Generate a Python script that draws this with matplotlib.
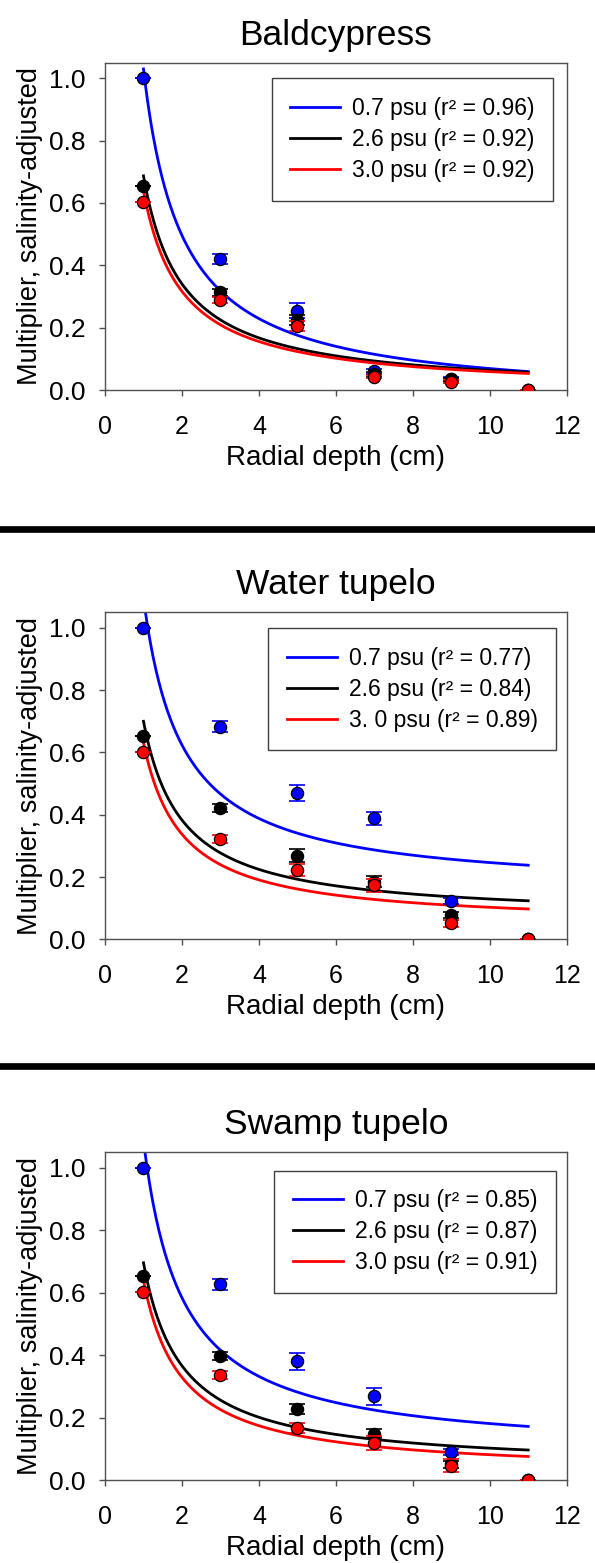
import numpy as np
import matplotlib
matplotlib.use("Agg")
import matplotlib.pyplot as plt
from matplotlib.lines import Line2D

plt.rcParams['font.family'] = ['Liberation Sans', 'DejaVu Sans']

# ---------------- data ----------------
depth = [1, 3, 5, 7, 9, 11]
series_labels = ['0.7 psu', '2.6 psu', '3.0 psu']
series_colors = ['#0000FF', '#000000', '#FF0000']
species = ['Baldcypress', 'Water tupelo', 'Swamp tupelo']

# Baldcypress
bc_07 = [1.0, 0.42, 0.255, 0.060, 0.036, 0.0]
bc_07_err = [0.0, 0.016, 0.023, 0.008, 0.006, 0.0]
bc_26 = [0.655, 0.313, 0.225, 0.050, 0.034, 0.0]
bc_26_err = [0.0, 0.010, 0.015, 0.008, 0.006, 0.0]
bc_30 = [0.602, 0.289, 0.205, 0.043, 0.027, 0.0]
bc_30_err = [0.0, 0.010, 0.015, 0.006, 0.006, 0.0]
bc_r2 = ['0.96', '0.92', '0.92']
bc_fit_a = [1.068, 0.693, 0.644]
bc_fit_y0 = [-0.038, -0.006, -0.0055]

# Water tupelo
wt_07 = [1.0, 0.683, 0.469, 0.388, 0.124, 0.0]
wt_07_err = [0.0, 0.017, 0.026, 0.022, 0.010, 0.0]
wt_26 = [0.654, 0.423, 0.269, 0.185, 0.078, 0.0]
wt_26_err = [0.0, 0.013, 0.020, 0.018, 0.010, 0.0]
wt_30 = [0.602, 0.322, 0.223, 0.173, 0.051, 0.0]
wt_30_err = [0.0, 0.012, 0.020, 0.022, 0.012, 0.0]
wt_r2 = ['0.77', '0.84', '0.89']
wt_fit_a = [0.944, 0.634, 0.587]
wt_fit_y0 = [0.152, 0.066, 0.044]

# Swamp tupelo
st_07 = [1.0, 0.627, 0.380, 0.268, 0.089, 0.0]
st_07_err = [0.0, 0.017, 0.028, 0.028, 0.010, 0.0]
st_26 = [0.654, 0.397, 0.227, 0.148, 0.050, 0.0]
st_26_err = [0.0, 0.013, 0.015, 0.015, 0.010, 0.0]
st_30 = [0.602, 0.337, 0.167, 0.118, 0.046, 0.0]
st_30_err = [0.0, 0.012, 0.015, 0.023, 0.020, 0.0]
st_r2 = ['0.85', '0.87', '0.91']
st_fit_a = [1.008, 0.660, 0.620]
st_fit_y0 = [0.080, 0.036, 0.019]

xticks = [0, 2, 4, 6, 8, 10, 12]
yticks = [0.0, 0.2, 0.4, 0.6, 0.8, 1.0]
xlabel = 'Radial depth (cm)'
ylabel = 'Multiplier, salinity-adjusted'

panels = [
    dict(title=species[0], vals=[bc_07, bc_26, bc_30], errs=[bc_07_err, bc_26_err, bc_30_err],
         r2=bc_r2, a=bc_fit_a, y0=bc_fit_y0, labels=series_labels),
    dict(title=species[1], vals=[wt_07, wt_26, wt_30], errs=[wt_07_err, wt_26_err, wt_30_err],
         r2=wt_r2, a=wt_fit_a, y0=wt_fit_y0, labels=['0.7 psu', '2.6 psu', '3. 0 psu']),
    dict(title=species[2], vals=[st_07, st_26, st_30], errs=[st_07_err, st_26_err, st_30_err],
         r2=st_r2, a=st_fit_a, y0=st_fit_y0, labels=series_labels),
]

# ---------------- layout ----------------
W, H = 595, 1563
fig = plt.figure(figsize=(W / 100, H / 100), dpi=100)

ax_boxes = [  # left, top, right, bottom in pixels
    (105, 62.7, 566.7, 390.0),
    (105, 612.3, 566.7, 939.3),
    (105, 1152.3, 566.7, 1480.0),
]
legend_anchor = [(0.361, 0.952), (0.354, 0.951), (0.367, 0.944)]
spine_col = '#505050'

for p, box, la in zip(panels, ax_boxes, legend_anchor):
    l, t, r, b = box
    ax = fig.add_axes([l / W, 1 - b / H, (r - l) / W, (b - t) / H])
    xs = np.linspace(depth[0], depth[-1], 400)
    handles = []
    for i in range(3):
        yfit = p['y0'][i] + p['a'][i] / xs
        ax.plot(xs, yfit, color=series_colors[i], lw=2.0, zorder=2)
        handles.append(Line2D([], [], color=series_colors[i], lw=2.0))
    for i in range(3):
        ax.errorbar(depth, p['vals'][i], yerr=p['errs'][i], fmt='none',
                    ecolor=series_colors[i], elinewidth=1.2, capsize=5.5, capthick=1.2, zorder=3 + i)
        ax.plot(depth, p['vals'][i], 'o', ms=8.8, mfc=series_colors[i], mec='black',
                mew=0.9, zorder=3.5 + i)
    ax.set_xlim(0, 12)
    ax.set_ylim(0, 1.05)
    ax.set_xticks(xticks)
    ax.set_yticks(yticks)
    ax.set_yticklabels([f'{v:.1f}' for v in yticks])
    ax.tick_params(direction='out', length=4, width=1, color=spine_col)
    ax.tick_params(axis='x', pad=14, labelsize=18)
    ax.tick_params(axis='y', pad=10, labelsize=19)
    for s in ax.spines.values():
        s.set_color(spine_col)
        s.set_linewidth(1.0)
    ax.set_xlabel(xlabel, fontsize=20, labelpad=4)
    ax.set_ylabel(ylabel, fontsize=19.5, labelpad=4)
    ax.set_title(p['title'], fontsize=25.5, pad=13)
    labels = [f"{p['labels'][i]} (r\u00b2 = {p['r2'][i]})" for i in range(3)]
    leg = ax.legend(handles, labels, loc='upper left', bbox_to_anchor=la,
                    borderaxespad=0, fontsize=16.5, frameon=True, fancybox=False,
                    framealpha=1, edgecolor='#404040', handlelength=2.2,
                    handletextpad=0.5, labelspacing=0.36, borderpad=0.8)
    leg.get_frame().set_linewidth(1.0)

# separator bars
for yy in (529.3, 1066.0):
    fig.add_artist(Line2D([0, 1], [1 - yy / H, 1 - yy / H], color='black', lw=4.8,
                          transform=fig.transFigure))

fig.savefig('out.png', dpi=100)
